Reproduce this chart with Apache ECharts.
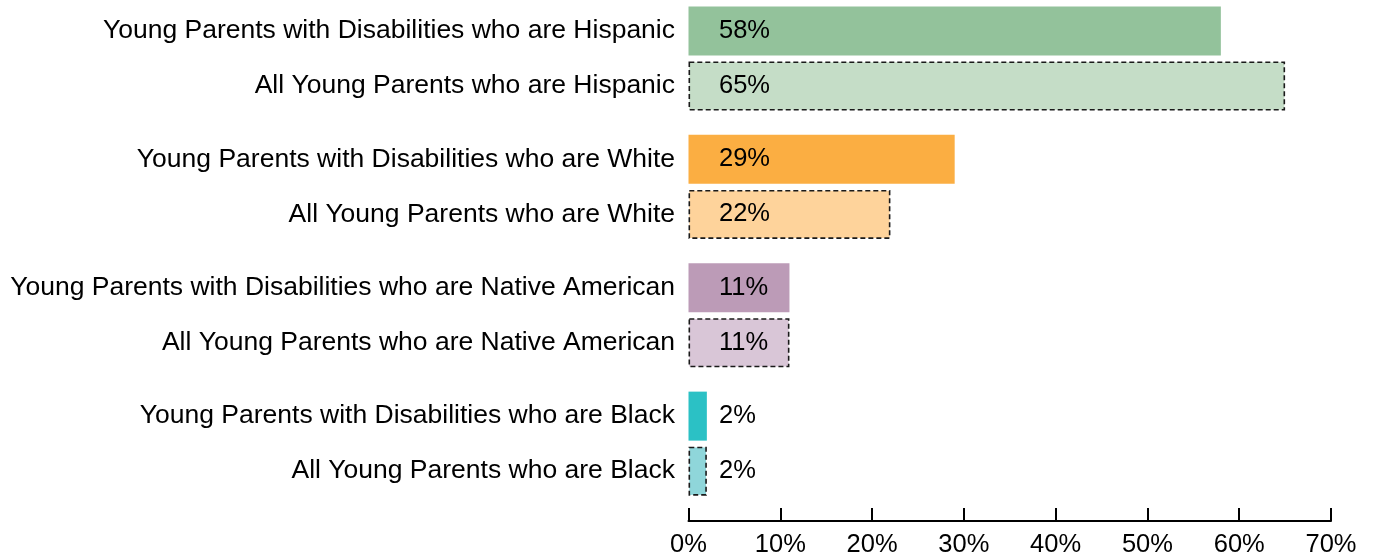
<!DOCTYPE html>
<html>
<head>
<meta charset="utf-8">
<script src="https://cdn.jsdelivr.net/npm/echarts@6/dist/echarts.min.js"></script>
<style>
  html, body { margin: 0; padding: 0; background: #fff; }
  #chart { width: 1378px; height: 558px; }
</style>
</head>
<body>
<div id="chart"></div>
<script>
// Share of young parents by race/ethnicity, grouped in pairs
const categories = [
  'Young Parents with Disabilities who are Hispanic',
  'All Young Parents who are Hispanic',
  'Young Parents with Disabilities who are White',
  'All Young Parents who are White',
  'Young Parents with Disabilities who are Native American',
  'All Young Parents who are Native American',
  'Young Parents with Disabilities who are Black',
  'All Young Parents who are Black'
];
const values = [58, 65, 29, 22, 11, 11, 2, 2];
const solidColors = ['#93c29b', '#fbae42', '#bc9bb7', '#2bc1c5'];
const lightColors = ['#c5ddc7', '#fed39b', '#d9c6d7', '#8fd6da'];
const xTicks = [0, 10, 20, 30, 40, 50, 60, 70];

// Each pair sits on a fine band grid: rows within a pair are 3 bands apart,
// pairs start 7 bands apart; empty bands give the gaps.
const PAIR_STEP = 3, GROUP_STEP = 7, TRAILING = 2;
const slotOf = i => Math.floor(i / 2) * GROUP_STEP + (i % 2) * PAIR_STEP;
const lastSlot = slotOf(categories.length - 1);
const slotNames = [];
const slotData = [];
for (let s = 0; s <= lastSlot + TRAILING; s++) { slotNames.push(''); slotData.push('-'); }
categories.forEach((name, i) => {
  const s = slotOf(i);
  const g = Math.floor(i / 2);
  const isAll = i % 2 === 1;
  slotNames[s] = name;
  slotData[s] = {
    value: values[i],
    itemStyle: isAll
      ? { color: lightColors[g], borderColor: '#1a1a1a', borderWidth: 1.6, borderType: [5, 3] }
      : { color: solidColors[g], borderWidth: 0 }
  };
});

const chart = echarts.init(document.getElementById('chart'), null, { renderer: 'canvas' });
chart.setOption({
  animation: false,
  textStyle: { fontFamily: '"Liberation Sans", Arial, sans-serif' },
  grid: { left: 688.5, right: 47, top: 21.8, height: 497.8, containLabel: false },
  xAxis: {
    type: 'value',
    min: xTicks[0],
    max: xTicks[xTicks.length - 1],
    interval: 10,
    position: 'bottom',
    offset: 4,
    splitLine: { show: false },
    axisLine: { show: true, lineStyle: { color: '#000', width: 2 } },
    axisTick: { show: true, inside: true, length: 13, lineStyle: { color: '#000', width: 2 } },
    axisLabel: { formatter: '{value}%', fontSize: 25.5, color: '#000', margin: 11 }
  },
  yAxis: {
    type: 'category',
    inverse: true,
    data: slotNames,
    axisLine: { show: false },
    axisTick: { show: false },
    splitLine: { show: false },
    axisLabel: { interval: 0, fontSize: 26.5, color: '#000', margin: 13.5 }
  },
  series: [{
    type: 'bar',
    data: slotData,
    barWidth: 49,
    clip: false,
    label: {
      show: true,
      position: 'insideLeft',
      distance: 30.5,
      formatter: '{c}%',
      fontSize: 25.5,
      color: '#000'
    }
  }]
});
</script>
</body>
</html>
